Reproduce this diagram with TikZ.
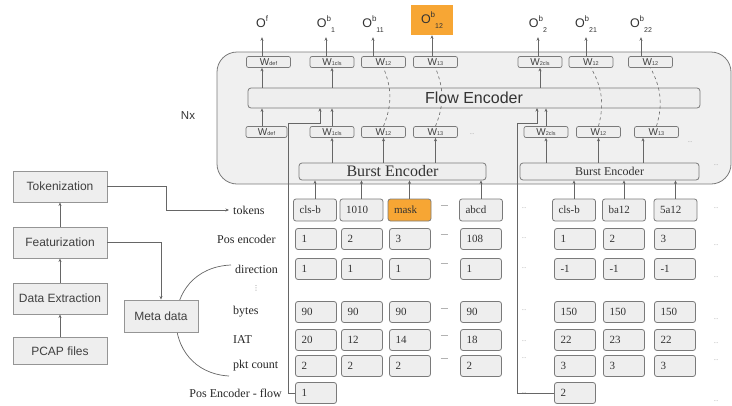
\documentclass[tikz,border=0pt]{standalone}
\usepackage{fontspec}
\setmainfont{Liberation Serif}
\setsansfont{Liberation Sans}
\newfontfamily\symfont{DejaVu Sans}
\usetikzlibrary{arrows.meta}

\definecolor{boxgray}{HTML}{EEEEEE}
\definecolor{linegray}{HTML}{7A7A7A}
\definecolor{maskorange}{RGB}{247,166,52}

% output label O^x_y and weight label W_y
\newcommand{\outlab}[2]{O\raisebox{0.85ex}{\fontsize{8}{9}\selectfont #1}\raisebox{-0.7ex}{\fontsize{7}{8}\selectfont #2}}
\newcommand{\wsub}[1]{W\raisebox{-0.1ex}{\fontsize{5.5}{6}\selectfont #1}}

\begin{document}
\begin{tikzpicture}[x=1pt, y=-1pt,
  cell/.style={draw=linegray, fill=boxgray, line width=0.8pt, rounded corners=2.5pt, text width=29pt, inner xsep=6pt, inner ysep=0pt, minimum height=21pt, align=left, text=black!80, font=\fontsize{11}{13}\selectfont},
  tokcell/.style={cell, text width=31pt, minimum height=22pt},
  wbox/.style={draw=linegray, fill=boxgray, line width=0.7pt, rounded corners=2pt, minimum width=44pt, minimum height=11pt, inner sep=0pt, font=\sffamily\fontsize{10}{10}\selectfont, text=black!75},
  encbox/.style={draw=linegray, fill=boxgray, line width=0.8pt, rounded corners=3pt, inner sep=0pt, text=black!80},
  pipebox/.style={draw=linegray!80, fill=boxgray, line width=0.9pt, minimum width=94pt, minimum height=31pt, inner sep=0pt, font=\sffamily\fontsize{12}{14}\selectfont, text=black!75},
  lbl/.style={anchor=west, inner xsep=4pt, inner ysep=1pt, text=black!85, font=\fontsize{12}{14}\selectfont},
  olab/.style={minimum height=26pt, inner sep=0pt, font=\sffamily\fontsize{12.5}{13}\selectfont, text=black!80},
  ellip/.style={inner sep=0pt, text=black!40, font=\fontsize{6}{6}\selectfont},
  gapmark/.style={inner sep=0pt, text=black!30},
  arr/.style={draw=black!60, line width=0.7pt, -{Stealth[length=3.5pt,width=3pt]}},
  link/.style={draw=black!60, line width=0.8pt}
]
\useasboundingbox (0,0) rectangle (732,405);

% Draw the Nx layer
\node[draw=linegray, fill=boxgray!90!white, line width=0.8pt, rounded corners=20pt, minimum width=514pt, minimum height=132pt] (layer) at (474,118) {};
\node[font=\sffamily\fontsize{11.5}{12}\selectfont, text=black!80] (nx) at (188,116) {Nx};

% Flow encoder
\node[encbox, minimum width=452pt, minimum height=20pt, font=\sffamily\fontsize{16}{18}\selectfont] (flowenc) at (474,98) {Flow Encoder};

% Weights above the flow encoder
\node[wbox] (wdefT) at (268.5,62) {\wsub{def}};
\node[wbox] (w1clsT) at (332,62) {\wsub{1cls}};
\node[wbox] (w12T) at (383.5,62) {\wsub{12}};
\node[wbox] (w13T) at (435.5,62) {\wsub{13}};
\node[wbox] (w2clsT) at (540,62) {\wsub{2cls}};
\node[wbox] (w21T) at (591,62) {\wsub{12}};
\node[wbox] (w22T) at (650.5,62) {\wsub{12}};

% Weights below the flow encoder
\node[wbox, minimum width=41pt] (wdefB) at (266.5,132) {\wsub{def}};
\node[wbox] (w1clsB) at (332,132) {\wsub{1cls}};
\node[wbox] (w12B) at (383.5,132) {\wsub{12}};
\node[wbox] (w13B) at (435.5,132) {\wsub{13}};
\node[wbox] (w2clsB) at (546,132) {\wsub{2cls}};
\node[wbox] (w21B) at (598.5,132) {\wsub{12}};
\node[wbox] (w22B) at (656.5,132) {\wsub{13}};

% Outputs
\node[olab] (of) at (262,24) {\outlab{f}{}};
\node[olab] (ob1) at (326,24) {\outlab{b}{1}};
\node[olab] (ob11) at (373,24) {\outlab{b}{11}};
\node[olab, fill=maskorange, minimum width=42pt, minimum height=30pt] (ob12) at (432,20) {\outlab{b}{12}};
\node[olab] (ob2) at (538,24) {\outlab{b}{2}};
\node[olab] (ob21) at (586,24) {\outlab{b}{21}};
\node[olab] (ob22) at (641,24) {\outlab{b}{22}};

\draw[arr] (wdefT.north -| of) -- (of.south);
\draw[arr] (w1clsT.north -| ob1) -- (ob1.south);
\draw[arr] (w12T.north -| ob11) -- (ob11.south);
\draw[arr] (w13T.north -| ob12) -- (ob12.south);
\draw[arr] (w2clsT.north -| ob2) -- (ob2.south);
\draw[arr] (w21T.north -| ob21) -- (ob21.south);
\draw[arr] (w22T.north -| ob22) -- (ob22.south);

% Through the flow encoder
\draw[arr] (flowenc.north -| of) -- (wdefT.south -| of);
\draw[arr] (flowenc.north -| w1clsT) -- (w1clsT.south);
\draw[arr] (flowenc.north -| w2clsT) -- (w2clsT.south);
\draw[arr] (wdefB.north -| of) -- (flowenc.south -| of);
\draw[arr] (w1clsB.north) -- (flowenc.south -| w1clsB);
\draw[arr] (w2clsB.north) -- (flowenc.south -| w2clsB);
\draw[link, dashed, line width=0.6pt] (w12B.north) to[bend right=22] (w12T.south);
\draw[link, dashed, line width=0.6pt] (w13B.north) to[bend right=22] (w13T.south);
\draw[link, dashed, line width=0.6pt] (w21B.north) to[bend right=22] (w21T.south);
\draw[link, dashed, line width=0.6pt] (w22B.north) to[bend right=22] (w22T.south);

% Burst encoders
\node[encbox, minimum width=187pt, minimum height=17pt, font=\fontsize{16}{17}\selectfont] (burstL) at (392.5,171.5) {Burst Encoder};
\node[encbox, minimum width=179pt, minimum height=17pt, font=\fontsize{12}{13}\selectfont] (burstR) at (609.5,171.5) {Burst Encoder};

\draw[arr] (burstL.north -| w1clsB) -- (w1clsB.south);
\draw[arr] (burstL.north -| w12B) -- (w12B.south);
\draw[arr] (burstL.north -| w13B) -- (w13B.south);
\draw[arr] (burstR.north -| w2clsB) -- (w2clsB.south);
\draw[arr] (burstR.north -| w21B) -- (w21B.south);
\coordinate (w22in) at (643,163);
\draw[arr] (w22in) -- (w22in |- w22B.south);

% Row labels
\node[lbl] (lbltok) at (229,210) {tokens};
\node[lbl] (lblpos) at (213,239) {Pos encoder};
\node[lbl] (lbldir) at (231,269) {direction};
\node[text=black!50, inner sep=0pt, font=\symfont\fontsize{7}{7}\selectfont] (vdot) at (256,288) {⋮};
\node[lbl] (lblbytes) at (229,312) {bytes};
\node[lbl] (lbliat) at (229,340) {IAT};
\node[lbl] (lblpkt) at (229,366) {pkt count};
\node[lbl, anchor=east] (lblflow) at (286,393) {Pos Encoder - flow};

% Tokens
\node[tokcell] (tk1) at (315,210) {cls-b};
\node[tokcell] (tk2) at (361.5,210) {1010};
\node[tokcell, fill=maskorange] (tk3) at (409.5,210) {mask};
\node[tokcell] (tk4) at (481,210) {abcd};
\node[tokcell] (tk5) at (574,210) {cls-b};
\node[tokcell] (tk6) at (624,210) {ba12};
\node[tokcell] (tk7) at (675.5,210) {5a12};

\draw[arr] (tk1.north) -- (tk1.north |- burstL.south);
\draw[arr] (tk2.north) -- (tk2.north |- burstL.south);
\draw[arr] (tk3.north) -- (tk3.north |- burstL.south);
\draw[arr] (tk4.north) -- (tk4.north |- burstL.south);
\draw[arr] (tk5.north) -- (tk5.north |- burstR.south);
\draw[arr] (tk6.north) -- (tk6.north |- burstR.south);
\draw[arr] (tk7.north) -- (tk7.north |- burstR.south);

% Position encoding
\node[cell] (ps1) at (316,239) {1};
\node[cell] (ps2) at (362,239) {2};
\node[cell] (ps3) at (410,239) {3};
\node[cell] (ps4) at (481,239) {108};
\node[cell] (ps5) at (575,239) {1};
\node[cell] (ps6) at (624,239) {2};
\node[cell] (ps7) at (675,239) {3};

% Direction
\node[cell] (dr1) at (316,269) {1};
\node[cell] (dr2) at (362,269) {1};
\node[cell] (dr3) at (410,269) {1};
\node[cell] (dr4) at (481,269) {1};
\node[cell] (dr5) at (575,269) {-1};
\node[cell] (dr6) at (624,269) {-1};
\node[cell] (dr7) at (675,269) {-1};

% Bytes
\node[cell] (by1) at (316,312) {90};
\node[cell] (by2) at (362,312) {90};
\node[cell] (by3) at (410,312) {90};
\node[cell] (by4) at (481,312) {90};
\node[cell] (by5) at (575,312) {150};
\node[cell] (by6) at (624,312) {150};
\node[cell] (by7) at (675,312) {150};

% Inter arrival time
\node[cell] (ia1) at (316,340) {20};
\node[cell] (ia2) at (362,340) {12};
\node[cell] (ia3) at (410,340) {14};
\node[cell] (ia4) at (481,340) {18};
\node[cell] (ia5) at (575,340) {22};
\node[cell] (ia6) at (624,340) {23};
\node[cell] (ia7) at (675,340) {22};

% Packet count
\node[cell] (pk1) at (316,366) {2};
\node[cell] (pk2) at (362,366) {2};
\node[cell] (pk3) at (410,366) {2};
\node[cell] (pk4) at (481,366) {2};
\node[cell] (pk5) at (575,366) {3};
\node[cell] (pk6) at (624,366) {3};
\node[cell] (pk7) at (675,366) {3};

% Flow position encoding
\node[cell] (pf1) at (316,393) {1};
\node[cell] (pf2) at (575,393) {2};

\coordinate (lbend) at (288,123);
\coordinate (finL) at (320,108);
\draw[arr] (pf1.west) -| (lbend) -| (finL);
\coordinate (rbend) at (517,123);
\coordinate (finR) at (537,108);
\draw[arr] (pf2.west) -| (rbend) -| (finR);

% Gaps between columns
\node[gapmark] (g1) at (444,205) {\rule{7pt}{0.6pt}};
\node[gapmark] (g2) at (444,234) {\rule{7pt}{0.6pt}};
\node[gapmark] (g3) at (444,263) {\rule{7pt}{0.6pt}};
\node[gapmark] (g4) at (444,308) {\rule{7pt}{0.6pt}};
\node[gapmark] (g5) at (444,335) {\rule{7pt}{0.6pt}};
\node[gapmark] (g6) at (444,358) {\rule{7pt}{0.6pt}};

% Ellipses
\node[ellip] (d1) at (472,134) {...};
\node[ellip] (d2) at (690,142) {...};
\node[ellip] (d3) at (524,208) {...};
\node[ellip] (d4) at (524,238) {...};
\node[ellip] (d5) at (524,268) {...};
\node[ellip] (d6) at (524,310) {...};
\node[ellip] (d7) at (524,341) {...};
\node[ellip] (d8) at (524,358) {...};
\node[ellip] (d9) at (524,393) {...};
\node[ellip] (d10) at (716,165) {...};
\node[ellip] (d11) at (716,208) {...};
\node[ellip] (d12) at (716,245) {...};
\node[ellip] (d13) at (716,277) {...};
\node[ellip] (d14) at (716,319) {...};
\node[ellip] (d15) at (716,343) {...};
\node[ellip] (d16) at (716,360) {...};
\node[ellip] (d17) at (716,401) {...};

% Meta data bracket
\draw[link, line width=0.7pt] ([yshift=4pt]lbldir.west) .. controls (158,268) and (158,372) .. ([yshift=-10pt]lblpkt.west);

% Pre-processing pipeline
\node[pipebox] (tok) at (60,186.5) {Tokenization};
\node[pipebox] (feat) at (60,242.5) {Featurization};
\node[pipebox] (dext) at (60,298.5) {Data Extraction};
\node[pipebox, minimum height=27pt] (pcap) at (60,351) {PCAP files};
\node[pipebox, minimum width=74pt, minimum height=32pt] (meta) at (161,316) {Meta data};

\draw[arr] (pcap) -- (dext);
\draw[arr] (dext) -- (feat);
\draw[arr] (feat) -- (tok);
\draw[arr] (tok.east) -- ++(59,0) |- (lbltok.west);
\draw[arr] (feat.east) -| (meta.north);
\end{tikzpicture}
\end{document}
